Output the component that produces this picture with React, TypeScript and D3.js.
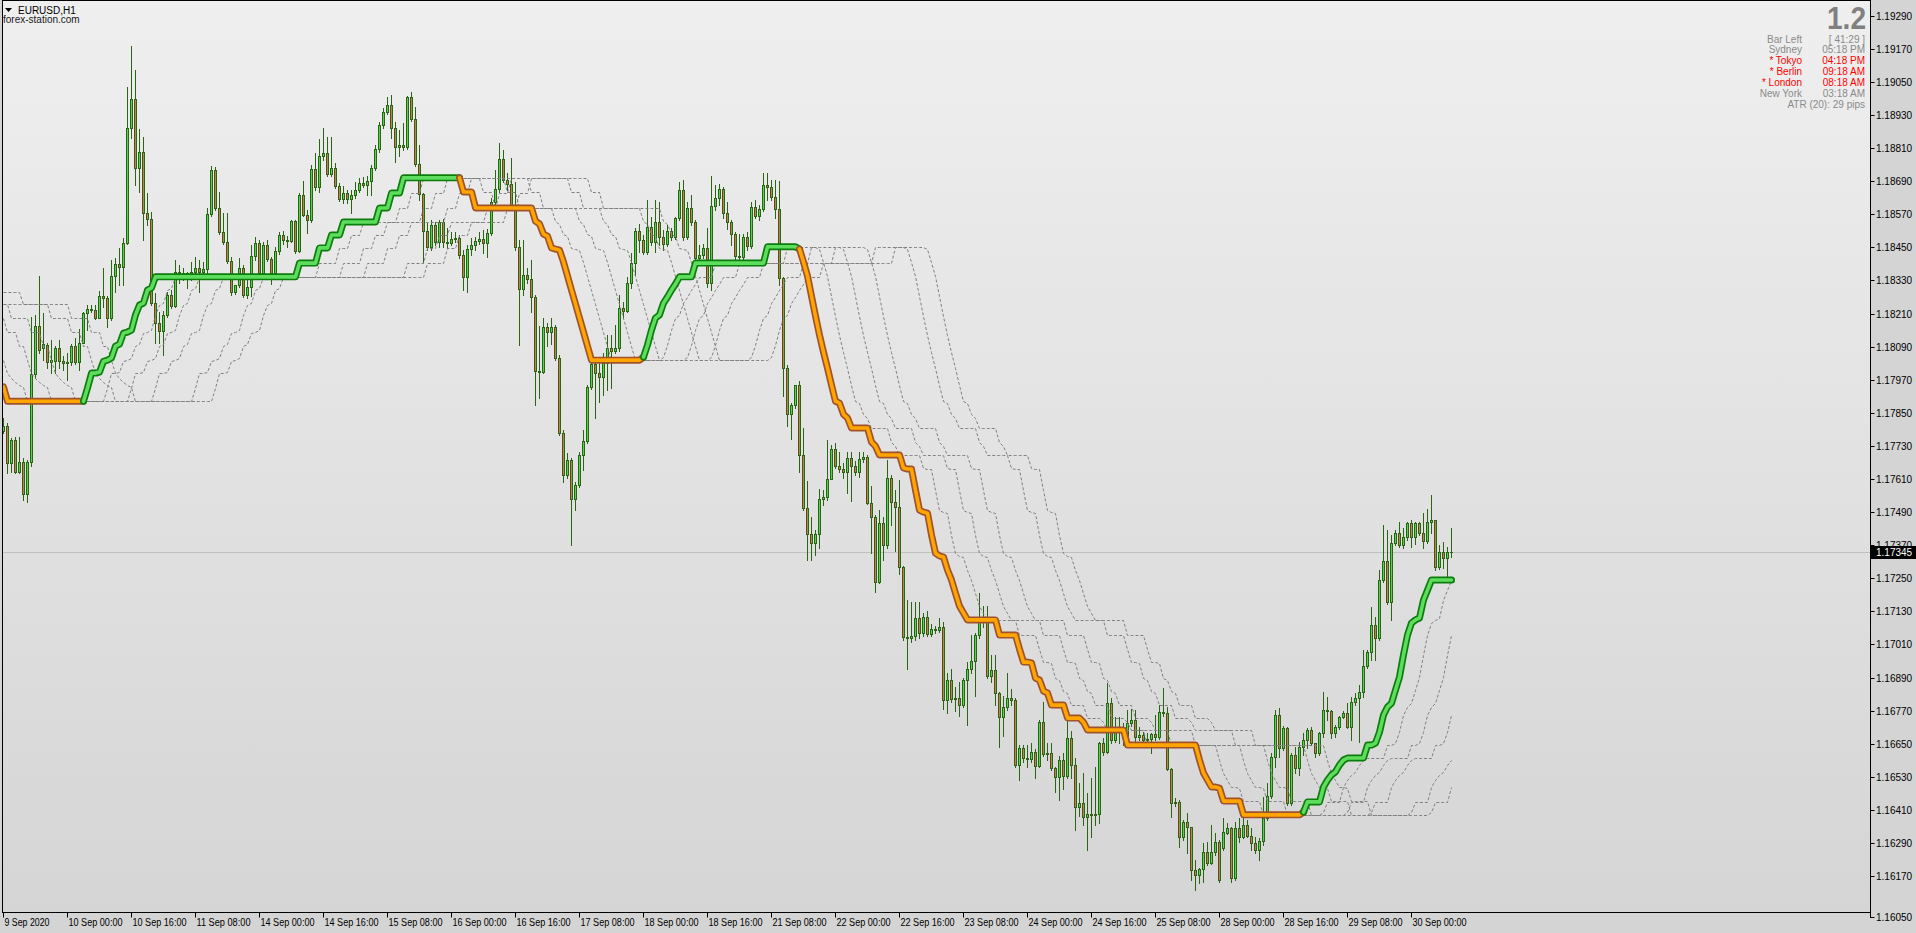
import React, { useEffect } from 'react';
import * as d3 from 'd3';

// ---------- DATA (EURUSD H1, one value per bar, bar 0 = 9 Sep 2020 08:00) ----------
const opens = [
1.17784,1.17802,1.17668,1.17751,1.17635,1.17672,1.17555,1.17672,1.17990,1.18165,
1.18085,1.18096,1.18034,1.18037,1.18085,1.18037,1.18030,1.18034,1.18092,1.18034,
1.18103,1.18212,1.18226,1.18223,1.18194,1.18273,1.18266,1.18194,1.18346,1.18389,
1.18379,1.18466,1.18883,1.18988,1.18738,1.18796,1.18574,1.18552,1.18248,1.18176,
1.18146,1.18205,1.18277,1.18237,1.18361,1.18350,1.18357,1.18346,1.18361,1.18375,
1.18361,1.18371,1.18570,1.18731,1.18593,1.18506,1.18470,1.18400,1.18288,1.18314,
1.18375,1.18277,1.18307,1.18418,1.18466,1.18357,1.18459,1.18407,1.18357,1.18436,
1.18495,1.18477,1.18473,1.18545,1.18436,1.18640,1.18567,1.18549,1.18734,1.18669,
1.18781,1.18792,1.18716,1.18738,1.18672,1.18625,1.18647,1.18625,1.18640,1.18658,
1.18683,1.18676,1.18690,1.18738,1.18806,1.18894,1.18941,1.18966,1.18883,1.18814,
1.18821,1.18814,1.18996,1.18915,1.18752,1.18643,1.18509,1.18452,1.18531,1.18470,
1.18542,1.18470,1.18466,1.18480,1.18484,1.18422,1.18343,1.18444,1.18459,1.18473,
1.18480,1.18466,1.18502,1.18615,1.18662,1.18770,1.18694,1.18680,1.18604,1.18452,
1.18299,1.18350,1.18335,1.18270,1.18001,1.17998,1.18162,1.18143,1.18162,1.18049,
1.17777,1.17624,1.17679,1.17537,1.17588,1.17697,1.17747,1.17944,1.18026,1.17994,
1.17980,1.18030,1.18085,1.18074,1.18085,1.18230,1.18219,1.18321,1.18393,1.18509,
1.18477,1.18433,1.18524,1.18470,1.18542,1.18488,1.18462,1.18509,1.18488,1.18556,
1.18658,1.18488,1.18593,1.18542,1.18411,1.18422,1.18448,1.18321,1.18600,1.18629,
1.18662,1.18574,1.18542,1.18498,1.18418,1.18415,1.18488,1.18455,1.18596,1.18563,
1.18589,1.18676,1.18669,1.18633,1.18589,1.18339,1.18012,1.17845,1.17878,1.17951,
1.17697,1.17505,1.17410,1.17378,1.17410,1.17537,1.17545,1.17609,1.17718,1.17657,
1.17646,1.17635,1.17686,1.17657,1.17635,1.17682,1.17690,1.17523,1.17472,1.17237,
1.17450,1.17371,1.17613,1.17527,1.17509,1.17291,1.17037,1.17033,1.17040,1.17106,
1.17051,1.17110,1.17047,1.17066,1.17062,1.17073,1.16808,1.16881,1.16812,1.16816,
1.16790,1.16881,1.16921,1.16950,1.17044,1.17099,1.17095,1.16895,1.16917,1.16834,
1.16747,1.16783,1.16816,1.16808,1.16573,1.16634,1.16598,1.16594,1.16620,1.16569,
1.16729,1.16612,1.16616,1.16562,1.16530,1.16591,1.16533,1.16671,1.16573,1.16421,
1.16435,1.16384,1.16395,1.16392,1.16395,1.16652,1.16620,1.16797,1.16663,1.16710,
1.16700,1.16671,1.16725,1.16736,1.16674,1.16681,1.16663,1.16667,1.16685,1.16674,
1.16765,1.16761,1.16559,1.16435,1.16439,1.16312,1.16366,1.16348,1.16192,1.16174,
1.16196,1.16258,1.16217,1.16258,1.16294,1.16272,1.16326,1.16344,1.16163,1.16344,
1.16312,1.16355,1.16315,1.16290,1.16265,1.16297,1.16381,1.16460,1.16602,1.16754,
1.16634,1.16707,1.16435,1.16609,1.16562,1.16638,1.16663,1.16700,1.16652,1.16616,
1.16689,1.16772,1.16768,1.16689,1.16710,1.16747,1.16761,1.16710,1.16801,1.16816,
1.16838,1.16932,1.16983,1.17081,1.17033,1.17244,1.17312,1.17164,1.17378,1.17414,
1.17371,1.17400,1.17450,1.17400,1.17450,1.17414,1.17385,1.17454,1.17461,1.17291,
1.17345,1.17323,1.17345,
];

const highs = [
1.17831,1.17813,1.17759,1.17763,1.17763,1.17686,1.17679,1.18198,1.18205,1.18346,
1.18212,1.18103,1.18114,1.18092,1.18114,1.18056,1.18067,1.18099,1.18121,1.18154,
1.18216,1.18241,1.18241,1.18241,1.18291,1.18375,1.18273,1.18404,1.18411,1.18448,
1.18484,1.19032,1.19180,1.19093,1.18879,1.18851,1.18647,1.18578,1.18284,1.18216,
1.18219,1.18288,1.18295,1.18404,1.18386,1.18375,1.18361,1.18397,1.18415,1.18404,
1.18397,1.18593,1.18745,1.18742,1.18651,1.18574,1.18574,1.18415,1.18314,1.18411,
1.18386,1.18332,1.18459,1.18488,1.18477,1.18470,1.18477,1.18415,1.18452,1.18506,
1.18509,1.18491,1.18549,1.18549,1.18647,1.18690,1.18585,1.18749,1.18792,1.18843,
1.18883,1.18851,1.18851,1.18756,1.18683,1.18672,1.18658,1.18658,1.18687,1.18702,
1.18705,1.18709,1.18749,1.18821,1.18905,1.18955,1.18996,1.19003,1.18905,1.18876,
1.18901,1.19000,1.19014,1.18959,1.18821,1.18647,1.18538,1.18549,1.18542,1.18549,
1.18552,1.18520,1.18506,1.18506,1.18495,1.18440,1.18459,1.18484,1.18488,1.18506,
1.18513,1.18517,1.18629,1.18731,1.18828,1.18803,1.18720,1.18774,1.18687,1.18477,
1.18477,1.18375,1.18404,1.18277,1.18165,1.18194,1.18176,1.18194,1.18169,1.18060,
1.17788,1.17704,1.17686,1.17599,1.17708,1.17788,1.17951,1.18041,1.18041,1.18034,
1.18067,1.18132,1.18132,1.18169,1.18277,1.18252,1.18343,1.18429,1.18520,1.18535,
1.18495,1.18622,1.18560,1.18622,1.18615,1.18513,1.18531,1.18520,1.18560,1.18687,
1.18694,1.18615,1.18640,1.18549,1.18459,1.18462,1.18520,1.18709,1.18676,1.18680,
1.18669,1.18615,1.18549,1.18506,1.18498,1.18498,1.18506,1.18615,1.18622,1.18604,
1.18720,1.18720,1.18694,1.18694,1.18690,1.18343,1.18023,1.17885,1.17936,1.17965,
1.17795,1.17602,1.17472,1.17425,1.17573,1.17570,1.17751,1.17733,1.17740,1.17708,
1.17668,1.17708,1.17708,1.17675,1.17708,1.17708,1.17697,1.17584,1.17479,1.17497,
1.17472,1.17679,1.17624,1.17570,1.17606,1.17294,1.17171,1.17164,1.17164,1.17164,
1.17124,1.17131,1.17084,1.17077,1.17106,1.17091,1.16906,1.16921,1.16856,1.16874,
1.16888,1.16947,1.17044,1.17051,1.17196,1.17149,1.17149,1.16972,1.16972,1.16838,
1.16823,1.16906,1.16848,1.16816,1.16645,1.16645,1.16645,1.16652,1.16630,1.16736,
1.16801,1.16652,1.16652,1.16566,1.16605,1.16616,1.16743,1.16696,1.16598,1.16508,
1.16544,1.16471,1.16526,1.16566,1.16656,1.16671,1.16870,1.16816,1.16747,1.16747,
1.16725,1.16772,1.16775,1.16772,1.16710,1.16692,1.16689,1.16689,1.16754,1.16790,
1.16852,1.16783,1.16562,1.16453,1.16446,1.16373,1.16399,1.16348,1.16228,1.16199,
1.16290,1.16294,1.16355,1.16326,1.16301,1.16381,1.16362,1.16348,1.16366,1.16381,
1.16381,1.16373,1.16344,1.16312,1.16308,1.16457,1.16508,1.16616,1.16772,1.16779,
1.16714,1.16710,1.16616,1.16638,1.16656,1.16689,1.16707,1.16710,1.16652,1.16692,
1.16838,1.16820,1.16772,1.16718,1.16750,1.16768,1.16797,1.16820,1.16834,1.16863,
1.16990,1.16990,1.17146,1.17110,1.17280,1.17443,1.17425,1.17407,1.17425,1.17454,
1.17432,1.17454,1.17461,1.17454,1.17454,1.17487,1.17501,1.17552,1.17461,1.17371,
1.17381,1.17363,1.17432,
];

const lows = [
1.17777,1.17631,1.17635,1.17631,1.17631,1.17534,1.17527,1.17657,1.17976,1.18067,
1.18041,1.18012,1.17994,1.17994,1.18012,1.18005,1.17969,1.18023,1.18026,1.18005,
1.18150,1.18150,1.18216,1.18190,1.18194,1.18234,1.18162,1.18187,1.18288,1.18314,
1.18314,1.18462,1.18847,1.18676,1.18651,1.18477,1.18531,1.18241,1.18103,1.18103,
1.18060,1.18198,1.18230,1.18234,1.18321,1.18332,1.18303,1.18332,1.18353,1.18288,
1.18350,1.18353,1.18563,1.18585,1.18498,1.18462,1.18393,1.18277,1.18280,1.18307,
1.18270,1.18266,1.18273,1.18404,1.18350,1.18350,1.18400,1.18317,1.18339,1.18425,
1.18462,1.18452,1.18470,1.18429,1.18433,1.18563,1.18502,1.18542,1.18658,1.18651,
1.18767,1.18709,1.18709,1.18665,1.18618,1.18611,1.18611,1.18574,1.18629,1.18651,
1.18669,1.18640,1.18640,1.18731,1.18796,1.18883,1.18933,1.18847,1.18760,1.18781,
1.18803,1.18806,1.18908,1.18745,1.18622,1.18397,1.18440,1.18440,1.18459,1.18452,
1.18452,1.18448,1.18459,1.18470,1.18411,1.18295,1.18288,1.18422,1.18440,1.18462,
1.18429,1.18415,1.18495,1.18604,1.18651,1.18687,1.18658,1.18596,1.18440,1.18096,
1.18277,1.18321,1.18216,1.17878,1.17904,1.17994,1.18092,1.18099,1.18041,1.17770,
1.17599,1.17613,1.17371,1.17497,1.17581,1.17642,1.17740,1.17937,1.17831,1.17889,
1.17915,1.17933,1.17940,1.18067,1.18074,1.18194,1.18216,1.18303,1.18350,1.18433,
1.18425,1.18425,1.18459,1.18433,1.18459,1.18440,1.18455,1.18477,1.18480,1.18549,
1.18477,1.18480,1.18531,1.18386,1.18404,1.18411,1.18307,1.18295,1.18585,1.18604,
1.18556,1.18516,1.18459,1.18393,1.18404,1.18404,1.18440,1.18448,1.18556,1.18549,
1.18582,1.18622,1.18622,1.18556,1.18314,1.17911,1.17802,1.17755,1.17867,1.17635,
1.17497,1.17316,1.17316,1.17334,1.17360,1.17516,1.17534,1.17624,1.17650,1.17635,
1.17613,1.17559,1.17530,1.17624,1.17617,1.17672,1.17519,1.17341,1.17200,1.17233,
1.17316,1.17360,1.17443,1.17349,1.17265,1.17026,1.16921,1.17019,1.17026,1.17033,
1.17040,1.17040,1.17040,1.17051,1.17055,1.16775,1.16761,1.16801,1.16768,1.16750,
1.16783,1.16718,1.16906,1.16823,1.17033,1.17073,1.16888,1.16874,1.16790,1.16638,
1.16678,1.16772,1.16790,1.16566,1.16518,1.16584,1.16566,1.16584,1.16526,1.16566,
1.16605,1.16591,1.16555,1.16475,1.16446,1.16486,1.16526,1.16526,1.16337,1.16388,
1.16355,1.16265,1.16312,1.16355,1.16362,1.16609,1.16616,1.16652,1.16656,1.16652,
1.16645,1.16663,1.16714,1.16652,1.16663,1.16648,1.16645,1.16616,1.16663,1.16667,
1.16750,1.16555,1.16385,1.16424,1.16276,1.16301,1.16254,1.16156,1.16120,1.16145,
1.16149,1.16210,1.16214,1.16247,1.16149,1.16265,1.16323,1.16149,1.16156,1.16294,
1.16308,1.16312,1.16265,1.16254,1.16228,1.16283,1.16373,1.16453,1.16566,1.16602,
1.16627,1.16428,1.16428,1.16544,1.16537,1.16609,1.16634,1.16645,1.16602,1.16609,
1.16674,1.16736,1.16671,1.16674,1.16703,1.16743,1.16707,1.16663,1.16790,1.16656,
1.16820,1.16925,1.16954,1.16954,1.17026,1.17237,1.17157,1.17099,1.17371,1.17363,
1.17360,1.17389,1.17363,1.17374,1.17407,1.17360,1.17378,1.17414,1.17280,1.17283,
1.17287,1.17255,1.17327,
];

const closes = [
1.17802,1.17668,1.17751,1.17635,1.17672,1.17555,1.17672,1.17990,1.18165,1.18078,
1.18099,1.18034,1.18041,1.18085,1.18037,1.18030,1.18034,1.18092,1.18034,1.18103,
1.18212,1.18226,1.18223,1.18194,1.18273,1.18266,1.18194,1.18346,1.18389,1.18379,
1.18466,1.18883,1.18988,1.18738,1.18796,1.18574,1.18552,1.18248,1.18176,1.18146,
1.18205,1.18277,1.18237,1.18361,1.18350,1.18357,1.18346,1.18361,1.18375,1.18361,
1.18371,1.18570,1.18731,1.18593,1.18506,1.18470,1.18400,1.18288,1.18314,1.18375,
1.18277,1.18307,1.18418,1.18466,1.18357,1.18459,1.18407,1.18357,1.18436,1.18495,
1.18477,1.18473,1.18545,1.18436,1.18640,1.18567,1.18549,1.18734,1.18669,1.18781,
1.18792,1.18716,1.18738,1.18672,1.18625,1.18647,1.18625,1.18640,1.18658,1.18683,
1.18676,1.18690,1.18738,1.18806,1.18894,1.18941,1.18966,1.18883,1.18814,1.18821,
1.18814,1.18996,1.18915,1.18752,1.18643,1.18509,1.18452,1.18531,1.18470,1.18542,
1.18470,1.18466,1.18480,1.18484,1.18422,1.18343,1.18444,1.18459,1.18473,1.18480,
1.18466,1.18502,1.18615,1.18662,1.18770,1.18694,1.18680,1.18604,1.18452,1.18299,
1.18350,1.18335,1.18270,1.18001,1.17998,1.18162,1.18143,1.18162,1.18049,1.17777,
1.17624,1.17679,1.17537,1.17588,1.17697,1.17747,1.17944,1.18026,1.17994,1.17980,
1.18030,1.18085,1.18074,1.18085,1.18230,1.18219,1.18321,1.18393,1.18509,1.18477,
1.18433,1.18524,1.18470,1.18542,1.18488,1.18462,1.18509,1.18488,1.18556,1.18658,
1.18488,1.18593,1.18542,1.18411,1.18422,1.18448,1.18321,1.18600,1.18629,1.18662,
1.18574,1.18542,1.18498,1.18418,1.18415,1.18488,1.18455,1.18596,1.18563,1.18589,
1.18676,1.18669,1.18633,1.18589,1.18339,1.18012,1.17845,1.17878,1.17951,1.17697,
1.17505,1.17410,1.17378,1.17410,1.17537,1.17545,1.17609,1.17718,1.17657,1.17646,
1.17635,1.17686,1.17657,1.17635,1.17682,1.17690,1.17523,1.17472,1.17237,1.17450,
1.17371,1.17613,1.17527,1.17509,1.17291,1.17037,1.17033,1.17040,1.17106,1.17051,
1.17110,1.17047,1.17066,1.17062,1.17073,1.16808,1.16881,1.16812,1.16816,1.16790,
1.16881,1.16921,1.16950,1.17044,1.17099,1.17095,1.16895,1.16917,1.16834,1.16747,
1.16783,1.16816,1.16808,1.16573,1.16634,1.16598,1.16594,1.16620,1.16569,1.16729,
1.16612,1.16616,1.16562,1.16530,1.16591,1.16533,1.16671,1.16573,1.16421,1.16435,
1.16384,1.16395,1.16392,1.16395,1.16652,1.16620,1.16797,1.16663,1.16710,1.16700,
1.16671,1.16725,1.16736,1.16674,1.16681,1.16663,1.16667,1.16685,1.16674,1.16765,
1.16761,1.16559,1.16435,1.16439,1.16312,1.16366,1.16348,1.16192,1.16174,1.16196,
1.16258,1.16217,1.16258,1.16294,1.16156,1.16330,1.16344,1.16163,1.16344,1.16312,
1.16355,1.16315,1.16290,1.16265,1.16297,1.16381,1.16460,1.16602,1.16754,1.16634,
1.16707,1.16435,1.16609,1.16562,1.16638,1.16663,1.16700,1.16652,1.16616,1.16689,
1.16772,1.16768,1.16689,1.16710,1.16747,1.16761,1.16710,1.16801,1.16816,1.16838,
1.16932,1.16983,1.17081,1.17033,1.17244,1.17312,1.17164,1.17378,1.17414,1.17371,
1.17400,1.17450,1.17400,1.17450,1.17414,1.17385,1.17454,1.17461,1.17291,1.17345,
1.17323,1.17345,1.17345,
];

// trailing stop (thick line), one value per bar
const stopLine = [
1.17944,
1.17892,1.17892,1.17892,1.17892,1.17892,1.17892,1.17892,1.17892,1.17892,1.17892,
1.17892,1.17892,1.17892,1.17892,1.17892,1.17892,1.17892,1.17892,1.17892,1.17892,
1.17940,1.17994,1.17994,1.17998,1.18037,1.18041,1.18049,1.18092,1.18099,1.18139,
1.18143,1.18150,1.18205,1.18241,1.18248,1.18295,1.18303,
1.18343,1.18343,1.18343,1.18343,1.18343,1.18343,1.18343,1.18343,1.18343,1.18343,
1.18343,1.18343,1.18343,1.18343,1.18343,1.18343,1.18343,1.18343,1.18343,1.18343,
1.18343,1.18343,1.18343,1.18343,1.18343,1.18343,1.18343,1.18343,1.18343,1.18343,
1.18343,1.18343,1.18343,1.18343,1.18343,1.18343,
1.18393,1.18393,1.18393,1.18393,1.18393,
1.18448,1.18448,1.18448,
1.18495,1.18495,1.18495,
1.18542,1.18542,1.18542,1.18542,1.18542,1.18542,1.18542,1.18542,1.18542,
1.18593,1.18593,1.18593,
1.18647,1.18647,1.18647,
1.18702,1.18702,1.18702,1.18702,1.18702,1.18702,1.18702,1.18702,1.18702,1.18702,
1.18702,1.18702,1.18702,1.18702,1.18702,
1.18651,1.18651,1.18651,
1.18593,1.18593,1.18593,1.18593,1.18593,1.18593,1.18593,1.18593,1.18593,1.18593,
1.18593,1.18593,1.18593,1.18593,1.18593,
1.18545,1.18535,1.18498,1.18491,1.18448,1.18444,1.18440,1.18397,1.18346,1.18295,
1.18245,1.18194,1.18143,1.18092,
1.18041,1.18041,1.18041,1.18041,1.18041,1.18041,1.18041,1.18041,1.18041,1.18041,
1.18041,1.18041,1.18041,
1.18052,1.18096,1.18150,1.18194,1.18205,1.18248,1.18270,1.18295,1.18317,
1.18343,1.18343,1.18343,1.18343,
1.18393,1.18393,1.18393,1.18393,1.18393,1.18393,1.18393,1.18393,1.18393,1.18393,
1.18393,1.18393,1.18393,1.18393,1.18393,1.18393,1.18393,1.18393,
1.18452,1.18452,1.18452,1.18452,1.18452,1.18452,1.18452,1.18452,
1.18444,1.18397,1.18346,1.18273,1.18201,1.18132,1.18070,1.18012,1.17951,1.17892,
1.17885,1.17845,1.17831,
1.17795,1.17795,1.17795,1.17795,1.17795,
1.17744,1.17729,
1.17697,1.17697,1.17697,1.17697,1.17697,1.17697,
1.17650,1.17646,1.17646,1.17570,1.17497,1.17490,1.17486,1.17407,1.17341,1.17331,
1.17327,1.17280,1.17244,1.17196,1.17149,1.17124,
1.17099,1.17099,1.17099,1.17099,1.17099,1.17099,1.17099,1.17099,
1.17044,1.17044,1.17044,1.17044,1.17044,
1.16993,1.16946,1.16946,1.16943,1.16888,1.16881,1.16841,1.16834,
1.16790,1.16790,1.16790,1.16790,
1.16743,1.16743,1.16743,1.16743,
1.16728,
1.16700,1.16700,1.16700,1.16700,1.16700,1.16700,1.16700,1.16700,1.16700,1.16700,
1.16645,1.16645,1.16645,1.16645,1.16645,1.16645,1.16645,1.16645,1.16645,1.16645,
1.16645,1.16645,1.16645,1.16645,1.16645,1.16645,1.16645,1.16645,
1.16591,1.16544,1.16518,1.16493,1.16493,1.16489,
1.16442,1.16442,1.16442,1.16442,1.16442,
1.16392,1.16392,1.16392,1.16392,1.16392,1.16392,1.16392,1.16392,1.16392,1.16392,
1.16392,1.16392,1.16392,1.16392,1.16392,
1.16402,
1.16439,1.16439,1.16439,1.16439,
1.16493,1.16518,1.16537,1.16548,1.16573,1.16591,
1.16598,1.16598,1.16598,1.16598,1.16598,
1.16645,1.16645,1.16652,1.16692,1.16754,1.16783,1.16797,1.16845,1.16892,1.16972,
1.17044,1.17088,1.17099,1.17106,1.17171,1.17207,
1.17244,1.17244,1.17244,1.17244,1.17244,1.17244,
];

// stop-line values of the 32 bars before the first visible bar (seen at the left edge)
const stopHistory = [
1.18288,1.18288,1.18288,1.18288,1.18288,
1.18245,1.18245,1.18245,1.18245,1.18245,1.18245,1.18245,1.18245,1.18245,1.18245,1.18245,1.18245,
1.18194,1.18194,1.18194,1.18194,1.18194,
1.18143,1.18143,1.18143,
1.18092,1.18092,
1.18041,1.17994,1.17976,1.17962,1.17951,
];

// displacement (in bars) of each dashed ladder line drawn after the stop line
const ladderShifts = [5, 11, 17, 27, 32];

// trend regimes of the stop line: first bar of each regime and its direction
const trendStart = [0, 20, 114, 160, 199, 325];
const trendDir = ['down', 'up', 'down', 'up', 'down', 'up'];

const timeLabels = [
  '9 Sep 2020', '10 Sep 00:00', '10 Sep 16:00', '11 Sep 08:00', '14 Sep 00:00', '14 Sep 16:00',
  '15 Sep 08:00', '16 Sep 00:00', '16 Sep 16:00', '17 Sep 08:00', '18 Sep 00:00', '18 Sep 16:00',
  '21 Sep 08:00', '22 Sep 00:00', '22 Sep 16:00', '23 Sep 08:00', '24 Sep 00:00', '24 Sep 16:00',
  '25 Sep 08:00', '28 Sep 00:00', '28 Sep 16:00', '29 Sep 08:00', '30 Sep 00:00',
];
const timeLabelBars = [0, 16, 32, 48, 64, 80, 96, 112, 128, 144, 160, 176, 192, 208, 224, 240, 256, 272, 288, 304, 320, 336, 352];

const priceTicks = [
  1.1929, 1.1917, 1.1905, 1.1893, 1.1881, 1.1869, 1.1857, 1.1845, 1.1833, 1.1821, 1.1809, 1.1797, 1.1785, 1.1773,
  1.1761, 1.1749, 1.1737, 1.1725, 1.1713, 1.1701, 1.1689, 1.1677, 1.1665, 1.1653, 1.1641, 1.1629, 1.1617, 1.1605,
];
const lastPrice = 1.17345;

const infoLabels = ['Bar Left', 'Sydney', '* Tokyo', '* Berlin', '* London', 'New York'];
const infoValues = ['[ 41:29 ]', '05:18 PM', '04:18 PM', '09:18 AM', '08:18 AM', '03:18 AM'];
const infoOpen = [false, false, true, true, true, false];
const atrText = 'ATR (20): 29 pips';
const bigValue = '1.2';

// ---------- STYLE ----------
const FONT = '"Liberation Sans", Arial, Helvetica, sans-serif';
const WICK = '#2b6414';
const BULL = '#4fd64f';
const BEAR = '#d0784e';

export default function App() {
  useEffect(() => {
    document.body.style.margin = '0';
    document.body.style.background = '#d4d4d4';
  }, []);

  const W = 1916, H = 933;
  const L = 2.5, R = 1870.5, T = 0.5, B = 912.5;

  const x = d3.scaleLinear().domain([0, 100]).range([3.5, 403.5]);
  const y = d3.scaleLinear().domain([1.1893, 1.1761]).range([115, 479]);
  const py = (v: number) => Math.round(y(v));

  const candles = closes.map((c, i) => {
    const o = opens[i];
    const cx = x(i);
    const yo = py(o), yc = py(c), yh = py(highs[i]), yl = py(lows[i]);
    const top = Math.min(yo, yc), bot = Math.max(yo, yc);
    const bull = c >= o;
    return (
      <g key={i}>
        <line x1={cx} x2={cx} y1={Math.min(yh, top)} y2={Math.max(yl, bot) + 1} stroke={WICK} strokeWidth={1} />
        {bot - top >= 1 ? (
          <rect x={cx - 1} y={top + 0.5} width={2} height={bot - top} fill={bull ? BULL : BEAR} stroke={WICK} strokeWidth={1} />
        ) : (
          <line x1={cx - 1.5} x2={cx + 1.5} y1={top + 0.5} y2={top + 0.5} stroke={WICK} strokeWidth={1} />
        )}
      </g>
    );
  });

  const lineGen = d3.line<number>().x((i) => x(i)).y((i) => y(stopLine[i]));
  const segments = trendStart.map((s, k) => {
    const e = k + 1 < trendStart.length ? trendStart[k + 1] : stopLine.length - 1;
    return { d: lineGen(d3.range(s, e + 1)) || '', dir: trendDir[k] };
  });

  const fullStop = stopHistory.concat(stopLine);
  const nHist = stopHistory.length;
  const ladder = ladderShifts.map((s) =>
    d3.line<number>().x((i) => x(i)).y((i) => Math.round(y(fullStop[i + nHist - s])) + 0.5)(d3.range(0, stopLine.length)) || ''
  );

  const yLast = Math.round(y(lastPrice)) + 0.5;

  return (
    <svg width={W} height={H} style={{ position: 'absolute', left: 0, top: 0, display: 'block' }} fontFamily={FONT}>
      <defs>
        <linearGradient id="bg" x1="0" y1="0" x2="0" y2="1">
          <stop offset="0" stopColor="#efefef" />
          <stop offset="1" stopColor="#d5d5d5" />
        </linearGradient>
        <clipPath id="plot">
          <rect x={L} y={T} width={R - L} height={B - T} />
        </clipPath>
      </defs>
      <rect x={0} y={0} width={W} height={H} fill="#d4d4d4" />
      <rect x={L} y={T} width={R - L} height={B - T} fill="url(#bg)" />

      {/* current price line */}
      <line x1={L} x2={R} y1={yLast} y2={yLast} stroke="#c0c0c0" strokeWidth={1} />

      <g clipPath="url(#plot)">
        {candles}
        {ladder.map((d, k) => (
          <path key={k} d={d} fill="none" stroke="#808080" strokeWidth={1} strokeDasharray="3,2" />
        ))}
        {segments.map((s, k) => (
          <g key={k}>
            <path d={s.d} fill="none" stroke={s.dir === 'up' ? '#0a7d0a' : '#a0522d'} strokeWidth={7}
              strokeLinejoin="round" strokeLinecap="round" />
            <path d={s.d} fill="none" stroke={s.dir === 'up' ? '#5ddc5d' : '#ffa500'} strokeWidth={3.6}
              strokeLinejoin="round" strokeLinecap="round" />
          </g>
        ))}
      </g>

      {/* frame */}
      <rect x={L} y={T} width={R - L} height={B - T} fill="none" stroke="#000" strokeWidth={1} />
      <line x1={R} x2={R} y1={T} y2={918} stroke="#000" strokeWidth={1} />

      {/* price axis */}
      {priceTicks.map((p, k) => {
        const last = k === priceTicks.length - 1;
        const yy = last ? 917.5 : Math.round(y(p)) + 0.5;
        return (
          <g key={k}>
            <line x1={R} x2={R + 4} y1={yy} y2={yy} stroke="#000" />
            <text x={R + 5.5} y={yy + 3.5} fontSize={10} fill="#000">{p.toFixed(5)}</text>
          </g>
        );
      })}
      <rect x={R + 0.5} y={yLast - 6.5} width={W - R} height={13} fill="#000" />
      <text x={R + 5.5} y={yLast + 3.5} fontSize={10} fill="#fff">{lastPrice.toFixed(5)}</text>

      {/* time axis */}
      {timeLabels.map((t, k) => {
        const xx = x(timeLabelBars[k]);
        return (
          <g key={k}>
            <line x1={xx} x2={xx} y1={B} y2={B + 5} stroke="#000" />
            <text x={xx + 1} y={926} fontSize={10} fill="#000" textLength={t.length * 4.5} lengthAdjust="spacingAndGlyphs">{t}</text>
          </g>
        );
      })}

      {/* title */}
      <polygon points="5,8 12,8 8.5,12" fill="#000" />
      <text x={18} y={13.5} fontSize={10} fill="#000">EURUSD,H1</text>
      <text x={3} y={22.5} fontSize={10} fill="#1a1a1a">forex-station.com</text>

      {/* info panel */}
      <text x={1866} y={29} fontSize={32} fontWeight="bold" fill="#808080" textAnchor="end" textLength={39} lengthAdjust="spacingAndGlyphs">{bigValue}</text>
      {infoLabels.map((lab, k) => (
        <g key={k}>
          <text x={1802} y={42.5 + k * 10.8} fontSize={10} textAnchor="end" fill={infoOpen[k] ? '#ff0000' : '#8a8a8a'}>{lab}</text>
          <text x={1865} y={42.5 + k * 10.8} fontSize={10} textAnchor="end" fill={infoOpen[k] ? '#ff0000' : '#8a8a8a'}>{infoValues[k]}</text>
        </g>
      ))}
      <text x={1865} y={108} fontSize={10} textAnchor="end" fill="#8a8a8a">{atrText}</text>
    </svg>
  );
}
